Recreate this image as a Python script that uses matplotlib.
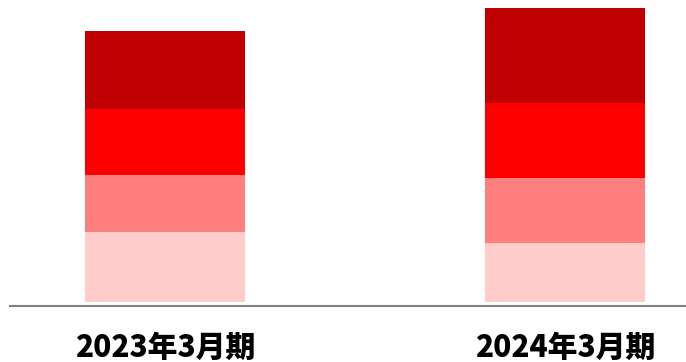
import matplotlib.pyplot as plt
import numpy as np

# Stacked segments, bottom to top (arbitrary units)
periods = ['2023年3月期', '2024年3月期']
seg1 = [70.0, 58.3]
seg2 = [56.7, 65.3]
seg3 = [65.7, 74.7]
seg4 = [78.3, 95.0]
colors = ['#FFCCCC', '#FF7F7F', '#FF0000', '#C00000']

plt.rcParams['font.family'] = ['Noto Sans CJK JP', 'DejaVu Sans']

fig = plt.figure(figsize=(6.86, 3.62), dpi=100)
ax = fig.add_axes([10 / 686, 60.3 / 362, 676 / 686, 301.7 / 362])

x = np.arange(len(periods))
bottom = np.zeros(len(periods))
for vals, c in zip([seg1, seg2, seg3, seg4], colors):
    ax.bar(x, vals, width=0.4, bottom=bottom, color=c, linewidth=0)
    bottom += np.array(vals)

ax.set_xlim(-0.388, 1.303)
ax.set_ylim(0, 301.7)

for s in ['top', 'right', 'left']:
    ax.spines[s].set_visible(False)
ax.spines['bottom'].set_position(('outward', 3))
ax.spines['bottom'].set_color('#808080')
ax.spines['bottom'].set_linewidth(1.5)

ax.set_yticks([])
ax.set_xticks(x, periods, fontsize=21.5, fontweight='heavy')
ax.tick_params(axis='x', length=0, pad=19)

fig.savefig('out.png', dpi=100)
plt.close(fig)
